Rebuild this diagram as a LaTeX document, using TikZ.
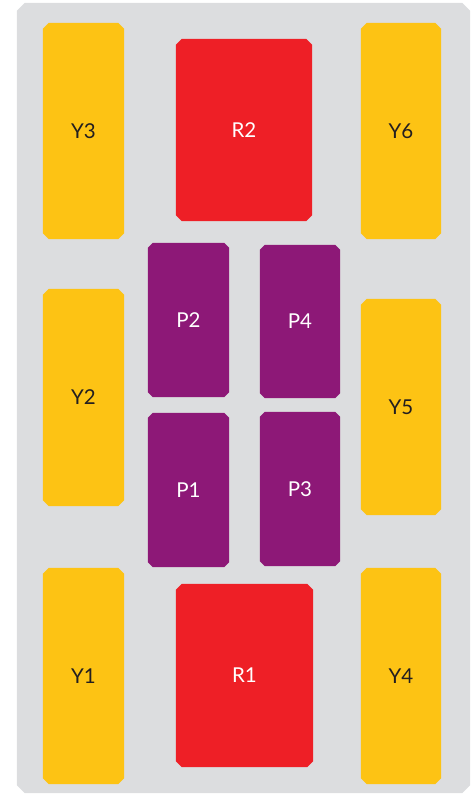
\documentclass[tikz,border=0pt]{standalone}
\usepackage{fontspec}
\setmainfont{Lato}
\pgfdeclarelayer{back}
\pgfdeclarelayer{mid}
\pgfsetlayers{back,mid,main}
\definecolor{bggray}{HTML}{DCDDDF}
\definecolor{yel}{HTML}{FDC314}
\definecolor{redc}{HTML}{EE1F26}
\definecolor{purp}{HTML}{8D1877}
\definecolor{txtdark}{HTML}{231F20}
\newcommand{\chamfill}[3]{%
  \begin{pgfonlayer}{mid}
  \fill[#2] ([xshift=#3]#1.north west) -- ([xshift=-#3]#1.north east) -- ([yshift=-#3]#1.north east) -- ([yshift=#3]#1.south east) -- ([xshift=-#3]#1.south east) -- ([xshift=#3]#1.south west) -- ([yshift=#3]#1.south west) -- ([yshift=-#3]#1.north west) -- cycle;
  \end{pgfonlayer}}
\tikzset{
  cell/.style={inner sep=0pt, font=\fontsize{20.5}{24}\selectfont},
  ybox/.style={cell, minimum width=81pt, minimum height=216pt, text=txtdark},
  rbox/.style={cell, minimum width=136pt, minimum height=182pt, text=white},
  pbox/.style={cell, minimum width=81pt, minimum height=154pt, text=white},
}
\begin{document}
\begin{tikzpicture}[x=1pt,y=-1pt]
\useasboundingbox (0,0) rectangle (476,795);
\node[inner sep=0pt, minimum width=453pt, minimum height=790pt] (bg) at (243.5,398) {};
\begin{pgfonlayer}{back}
\fill[bggray] ([xshift=8pt]bg.north west) -- ([xshift=-8pt]bg.north east) -- ([yshift=-8pt]bg.north east) -- ([yshift=8pt]bg.south east) -- ([xshift=-8pt]bg.south east) -- ([xshift=8pt]bg.south west) -- ([yshift=8pt]bg.south west) -- ([yshift=-8pt]bg.north west) -- cycle;
\end{pgfonlayer}
% yellow
\node[ybox] (y3) at (83.5,131) {Y3};
\node[ybox, minimum height=217pt] (y2) at (83.5,397.5) {Y2};
\node[ybox] (y1) at (83.5,676) {Y1};
\node[ybox, minimum width=80pt] (y6) at (401,131) {Y6};
\node[ybox, minimum width=80pt] (y5) at (401,407) {Y5};
\node[ybox, minimum width=80pt] (y4) at (401,676) {Y4};
% red
\node[rbox] (r2) at (244,130) {R2};
\node[rbox, minimum width=137pt, minimum height=183pt] (r1) at (244.5,675.5) {R1};
% purple
\node[pbox] (p2) at (188.5,320) {P2};
\node[pbox, minimum width=80pt, minimum height=153pt] (p4) at (300,321.5) {P4};
\node[pbox] (p1) at (188.5,490) {P1};
\node[pbox, minimum width=80pt] (p3) at (300,489) {P3};
\foreach \n in {y1,y2,y3,y4,y5,y6} {\chamfill{\n}{yel}{6pt}}
\foreach \n in {r1,r2} {\chamfill{\n}{redc}{6pt}}
\foreach \n in {p1,p2,p3,p4} {\chamfill{\n}{purp}{5pt}}
\end{tikzpicture}
\end{document}
